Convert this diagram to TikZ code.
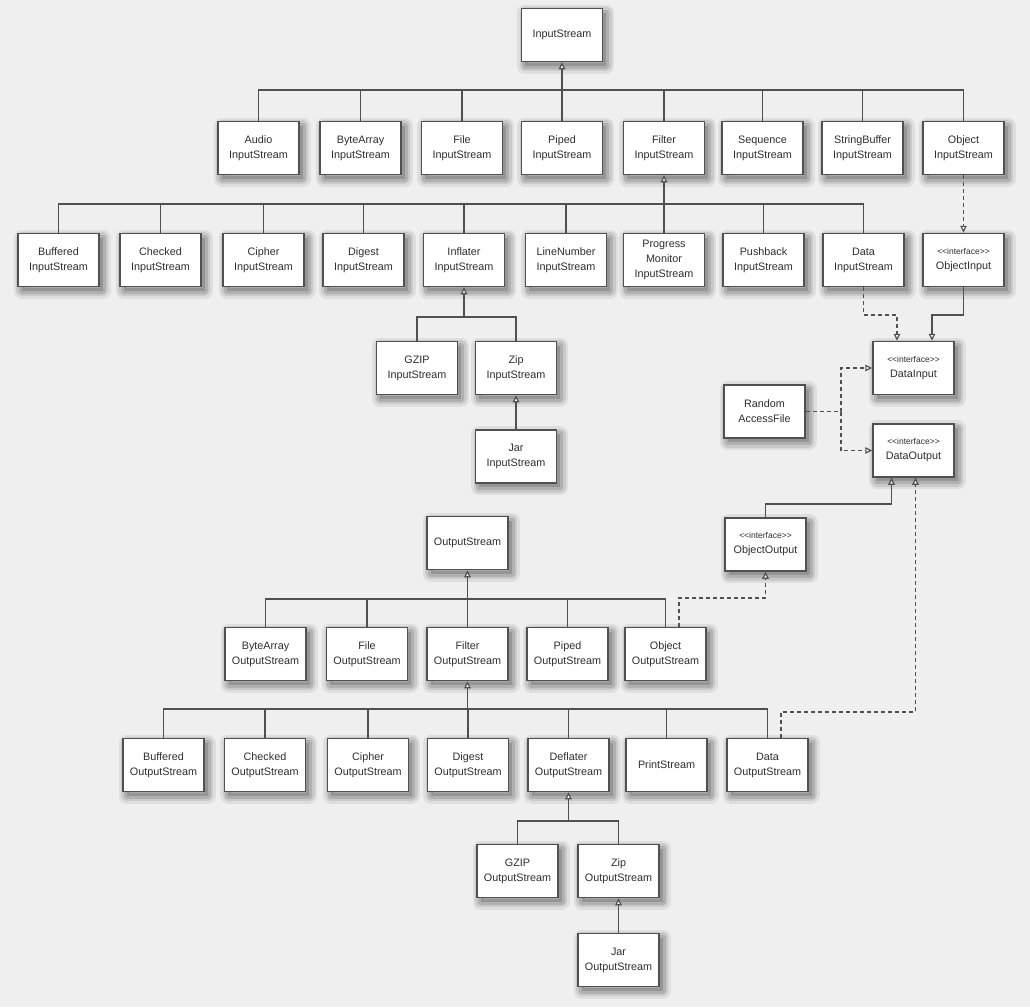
\documentclass[tikz,border=0pt]{standalone}
\usepackage{fontspec}
\setmainfont{Liberation Sans}
\usetikzlibrary{arrows.meta}
\definecolor{linec}{HTML}{505050}
\definecolor{txtc}{HTML}{2E2E2E}
\definecolor{bgc}{HTML}{EFEFEF}
\newcommand{\iface}{{\fontsize{8.5}{11}\selectfont <{}<interface>{}>}}
\begin{document}
\begin{tikzpicture}[x=1pt,y=-1pt,
  shd/.style={transform canvas={shift={(3.5pt,-4pt)}}, line join=round},
  softshadow/.style={
    preaction={shd, draw=black, draw opacity=.07, line width=16pt},
    preaction={shd, draw=black, draw opacity=.09, line width=11pt},
    preaction={shd, draw=black, draw opacity=.12, line width=6pt},
    preaction={shd, fill=black, fill opacity=.15}},
  cls/.style={softshadow, draw=linec, line width=1.5pt, fill=white, minimum width=81pt,
    minimum height=53pt, inner sep=1pt, align=center, text=txtc,
    font=\fontsize{10.8}{15}\selectfont},
  ln/.style={draw=linec, line width=1.6pt},
  inh/.style={ln, -{Triangle[open, length=7pt, width=6.5pt, fill=white, line width=1.2pt]}},
  impl/.style={inh, dash pattern=on 4pt off 3pt}]
\fill[bgc] (0,0) rectangle (1030,1007);
\useasboundingbox (0,0) rectangle (1030,1007);

% ---- input hierarchy ----
\node[cls] (in0) at (562,35) {InputStream};
\node[cls] (ia)  at (258.5,148) {Audio\\InputStream};
\node[cls] (ib)  at (360.5,148) {ByteArray\\InputStream};
\node[cls] (ifi) at (462,148) {File\\InputStream};
\node[cls] (ip)  at (562,148) {Piped\\InputStream};
\node[cls] (ifl) at (664,148) {Filter\\InputStream};
\node[cls] (is)  at (762.5,148) {Sequence\\InputStream};
\node[cls] (isb) at (862.5,148) {StringBuffer\\InputStream};
\node[cls] (io)  at (963.5,148) {Object\\InputStream};

\node[cls] (ibu) at (58.5,260) {Buffered\\InputStream};
\node[cls] (ich) at (160.5,260) {Checked\\InputStream};
\node[cls] (ici) at (263.5,260) {Cipher\\InputStream};
\node[cls] (idg) at (363.5,260) {Digest\\InputStream};
\node[cls] (iin) at (464,260) {Inflater\\InputStream};
\node[cls] (iln) at (566,260) {LineNumber\\InputStream};
\node[cls] (ipm) at (664,260) {Progress\\Monitor\\InputStream};
\node[cls] (ipb) at (763.5,260) {Pushback\\InputStream};
\node[cls] (idt) at (863.5,260) {Data\\InputStream};
\node[cls] (oin) at (963.5,260) {\iface\\ObjectInput};

\node[cls] (gz) at (417,368) {GZIP\\InputStream};
\node[cls] (zp) at (516,368) {Zip\\InputStream};
\node[cls] (jr) at (516,456.5) {Jar\\InputStream};

\node[cls] (din)  at (913.5,368) {\iface\\DataInput};
\node[cls] (raf)  at (764.5,411.5) {Random\\AccessFile};
\node[cls] (dout) at (913.5,450.5) {\iface\\DataOutput};
\node[cls] (oout) at (765.5,544.5) {\iface\\ObjectOutput};

% ---- output hierarchy ----
\node[cls] (os0) at (467.5,543) {OutputStream};
\node[cls] (oba) at (265.5,654) {ByteArray\\OutputStream};
\node[cls] (ofi) at (367,654) {File\\OutputStream};
\node[cls] (ofl) at (467.5,654) {Filter\\OutputStream};
\node[cls] (opi) at (567.5,654) {Piped\\OutputStream};
\node[cls] (oob) at (665.5,654) {Object\\OutputStream};

\node[cls] (obu) at (163.5,765) {Buffered\\OutputStream};
\node[cls] (och) at (265,765) {Checked\\OutputStream};
\node[cls] (oci) at (368,765) {Cipher\\OutputStream};
\node[cls] (odg) at (468,765) {Digest\\OutputStream};
\node[cls] (odf) at (568.5,765) {Deflater\\OutputStream};
\node[cls] (ops) at (666.5,765) {PrintStream};
\node[cls] (odt) at (767.5,765) {Data\\OutputStream};

\node[cls] (ogz) at (517.5,871) {GZIP\\OutputStream};
\node[cls] (ozp) at (618.5,871) {Zip\\OutputStream};
\node[cls] (ojr) at (618.5,960) {Jar\\OutputStream};

% ---- connectors: input ----
\draw[ln] (ia.north) |- (io.north |- 0,90) -- (io.north);
\foreach \n in {ib,ifi,ip,ifl,is,isb} \draw[ln] (\n.north) -- (\n.north |- 0,90);
\draw[inh] (in0.south |- 0,90) -- (in0.south);

\draw[ln] (ibu.north) |- (idt.north |- 0,204) -- (idt.north);
\foreach \n in {ich,ici,idg,iin,iln,ipm,ipb} \draw[ln] (\n.north) -- (\n.north |- 0,204);
\draw[inh] (ifl.south |- 0,204) -- (ifl.south);

\draw[impl] (io.south) -- (oin.north);

\draw[ln] (gz.north) |- (zp.north |- 0,317) -- (zp.north);
\draw[inh] (iin.south |- 0,317) -- (iin.south);
\draw[inh] (jr.north) -- (zp.south);

\coordinate (dinA) at ([xshift=-16.5pt]din.north);
\coordinate (dinB) at ([xshift=18.5pt]din.north);
\draw[impl] (idt.south) |- (dinA |- 0,315) -- (dinA);
\draw[inh] (oin.south) |- (dinB |- 0,315) -- (dinB);

\coordinate (rj) at ([xshift=35pt]raf.east);
\draw[impl] (raf.east) -- (rj) |- (din.west);
\draw[impl] (rj) |- (dout.west);

\coordinate (doA) at ([xshift=-22pt]dout.south);
\draw[inh] (oout.north) |- (doA |- 0,504) -- (doA);

% ---- connectors: output ----
\draw[ln] (oba.north) |- (oob.north |- 0,599) -- (oob.north);
\foreach \n in {ofi,ofl,opi} \draw[ln] (\n.north) -- (\n.north |- 0,599);
\draw[inh] (os0.south |- 0,599) -- (os0.south);

\coordinate (oobA) at ([xshift=13.5pt]oob.north);
\draw[impl] (oobA) |- (oout.south |- 0,598) -- (oout.south);

\draw[ln] (obu.north) |- (odt.north |- 0,709) -- (odt.north);
\foreach \n in {och,oci,odg,odf,ops} \draw[ln] (\n.north) -- (\n.north |- 0,709);
\draw[inh] (ofl.south |- 0,709) -- (ofl.south);

\coordinate (odtA) at ([xshift=13.5pt]odt.north);
\draw[impl] (odtA) |- ([xshift=2pt]dout.south |- 0,712) -- ([xshift=2pt]dout.south);

\draw[ln] (ogz.north) |- (ozp.north |- 0,821) -- (ozp.north);
\draw[inh] (odf.south |- 0,821) -- (odf.south);
\draw[inh] (ojr.north) -- (ozp.south);
\end{tikzpicture}
\end{document}
